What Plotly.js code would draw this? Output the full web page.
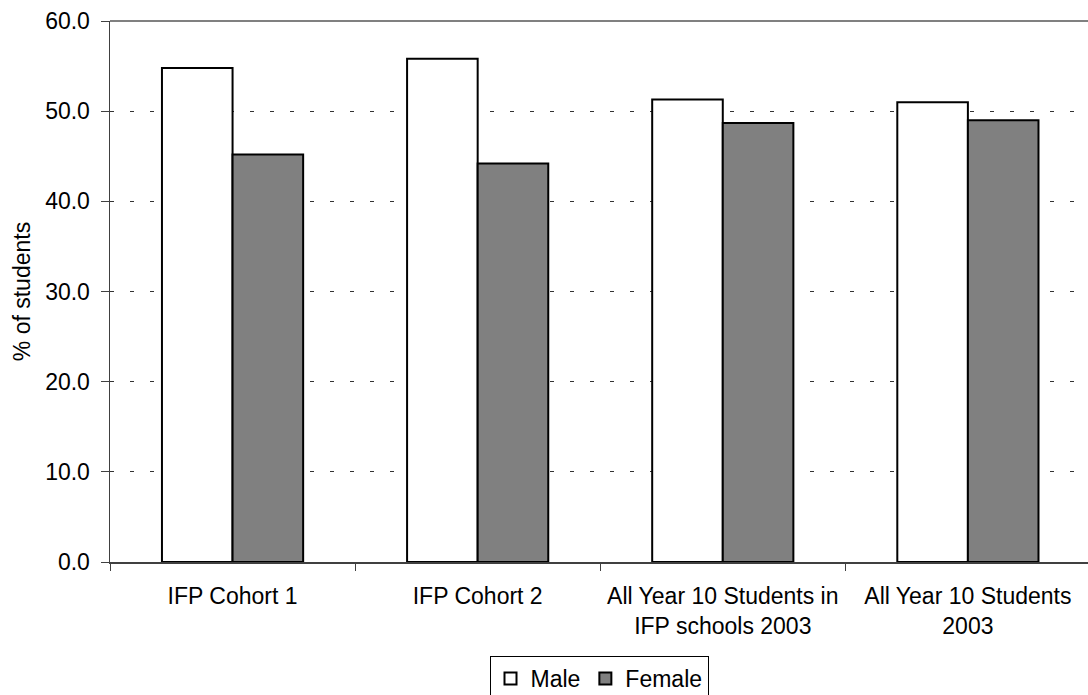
<!DOCTYPE html>
<html>
<head>
<meta charset="utf-8">
<script src="https://cdn.plot.ly/plotly-3.0.1.min.js"></script>
<style>
  html, body { margin: 0; padding: 0; background: #fff; }
  #chart { width: 1088px; height: 695px; }
</style>
</head>
<body>
<div id="chart"></div>
<script>
// Student groups along the category axis
const groups = [
  "IFP Cohort 1",
  "IFP Cohort 2",
  "All Year 10 Students in<br>IFP schools 2003",
  "All Year 10 Students<br>2003"
];

// Share of students by gender (%)
const maleShare   = [54.8, 55.8, 51.3, 51.0];
const femaleShare = [45.2, 44.2, 48.7, 49.0];

const yTicks = [0, 10, 20, 30, 40, 50, 60];
const yTickText = yTicks.map(v => v.toFixed(1));

const FONT = "Liberation Sans, Arial, sans-serif";

const traces = [
  {
    type: "bar",
    name: "Male",
    x: groups,
    y: maleShare,
    marker: { color: "#ffffff", line: { color: "#000000", width: 2 } },
    hoverinfo: "x+y+name"
  },
  {
    type: "bar",
    name: "Female",
    x: groups,
    y: femaleShare,
    marker: { color: "#808080", line: { color: "#000000", width: 2 } },
    hoverinfo: "x+y+name"
  }
];

const layout = {
  width: 1088,
  height: 695,
  margin: { l: 110, r: 0, t: 21, b: 133 },
  paper_bgcolor: "#ffffff",
  plot_bgcolor: "#ffffff",
  font: { family: FONT, size: 23, color: "#000000" },
  barmode: "group",
  bargap: 0.424,
  bargroupgap: 0,
  showlegend: true,
  legend: {
    orientation: "h",
    xref: "paper",
    yref: "container",
    x: 0.5,
    xanchor: "center",
    y: (695 - 656) / 695,
    yanchor: "top",
    bgcolor: "#ffffff",
    bordercolor: "#000000",
    borderwidth: 1,
    itemwidth: 30,
    font: { family: FONT, size: 23, color: "#000000" },
    traceorder: "normal"
  },
  xaxis: {
    type: "category",
    range: [-0.5, 3.49],
    tickson: "boundaries",
    ticks: "outside",
    ticklen: 7,
    tickwidth: 1,
    tickcolor: "#404040",
    ticklabelstandoff: 13,
    showline: true,
    linecolor: "#404040",
    linewidth: 1.5,
    showgrid: false,
    zeroline: false,
    tickfont: { family: FONT, size: 23, color: "#000000" },
    fixedrange: true
  },
  yaxis: {
    range: [0, 60],
    tickvals: yTicks,
    ticktext: yTickText,
    ticks: "outside",
    ticklen: 8,
    tickwidth: 1,
    tickcolor: "#404040",
    ticklabelstandoff: 6,
    showline: true,
    linecolor: "#404040",
    linewidth: 1.5,
    showgrid: true,
    gridcolor: "#333333",
    gridwidth: 1,
    griddash: "4px,16px",
    zeroline: false,
    tickfont: { family: FONT, size: 23, color: "#000000" },
    title: {
      text: "% of students",
      font: { family: FONT, size: 23, color: "#000000" },
      standoff: 8
    },
    fixedrange: true
  },
  shapes: [
    {
      // plot-area top border
      type: "line",
      xref: "paper", yref: "paper",
      x0: 0, x1: 1, y0: 1, y1: 1,
      line: { color: "#808080", width: 2 }
    }
  ]
};

Plotly.newPlot("chart", traces, layout, { displayModeBar: false, staticPlot: true });
</script>
</body>
</html>
